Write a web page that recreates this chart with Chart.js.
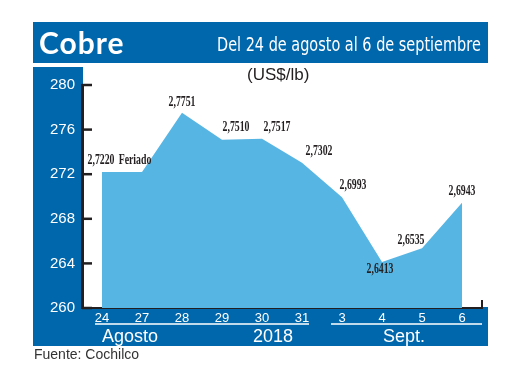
<!DOCTYPE html>
<html lang="es">
<head>
<meta charset="utf-8">
<title>Cobre</title>
<script src="https://cdn.jsdelivr.net/npm/chart.js@4.4.1/dist/chart.umd.min.js"></script>
<style>
  body { margin: 0; background: #fff; }
  #wrap { position: relative; width: 520px; height: 390px; overflow: hidden; font-family: "Liberation Sans", Arial, sans-serif; }
  .blue { position: absolute; background: #0067ac; }
  #banner { left: 33px; top: 22px; width: 455px; height: 41px; }
  #strip { left: 33px; top: 67px; width: 50px; height: 279px; }
  #band { left: 33px; top: 307px; width: 455px; height: 39px; }
  #title { position: absolute; left: 39px; top: 22px; line-height: 40px; font-family: Lato, sans-serif; font-weight: 700; font-size: 30px; letter-spacing: 1px; color: #fff; }
  #sub { position: absolute; left: 217px; top: 24px; line-height: 40px; font-family: "DejaVu Sans Condensed", sans-serif; font-size: 19px; color: #fff; white-space: nowrap; transform-origin: 0 50%; }
  #unit { position: absolute; left: 247px; top: 64px; line-height: 22px; font-size: 17px; color: #231f20; }
  .grp { position: absolute; top: 325px; line-height: 22px; font-size: 18px; color: #fff; text-align: center; width: 80px; }
  #src { position: absolute; left: 34px; top: 345px; line-height: 18px; font-size: 14px; color: #333; }
  canvas { position: absolute; left: 0; top: 0; }
</style>
</head>
<body>
<div id="wrap">
  <div class="blue" id="banner"></div>
  <div class="blue" id="strip"></div>
  <div class="blue" id="band"></div>
  <canvas id="chart" width="520" height="390"></canvas>
  <div id="title">Cobre</div>
  <div id="sub">Del 24 de agosto al 6 de septiembre</div>
  <div id="unit">(US$/lb)</div>
  <div class="grp" style="left:90px">Agosto</div>
  <div class="grp" style="left:233px">2018</div>
  <div class="grp" style="left:364px">Sept.</div>
  <div id="src">Fuente: Cochilco</div>
</div>
<script>
const days = ['24', '27', '28', '29', '30', '31', '3', '4', '5', '6'];
// US cents per lb (label values x 100)
const prices = [272.20, 272.20, 277.51, 275.10, 275.17, 273.02, 269.93, 264.13, 265.35, 269.43];
const notes = [null, 'Feriado', null, null, null, null, null, null, null, null];
const yMin = 260, yMax = 280, yStep = 4;

// fit subtitle to the banner width
const sub = document.getElementById('sub');
sub.style.transform = 'scaleX(' + (264 / sub.offsetWidth) + ')';

const labelShift = [[-1, -12], [-7, -12], [0, -10], [14, -12], [15, -11], [17, -11], [11, -12], [-2, 7], [-11, -8], [0, -11]];

const decor = {
  id: 'decor',
  afterDatasetsDraw(chart) {
    const { ctx, chartArea: a, scales: { x, y } } = chart;
    ctx.save();
    ctx.strokeStyle = '#231f20';
    ctx.lineWidth = 2.5;
    y.ticks.forEach(t => {
      const py = y.getPixelForValue(t.value);
      ctx.beginPath();
      ctx.moveTo(a.left, py);
      ctx.lineTo(a.left + 10, py);
      ctx.stroke();
    });
    ctx.lineWidth = 2;
    ctx.beginPath();
    ctx.moveTo(a.right - 20, a.bottom);
    ctx.lineTo(a.right, a.bottom);
    ctx.lineTo(a.right, a.bottom - 8);
    ctx.stroke();

    // value labels, condensed
    const pts = chart.getDatasetMeta(0).data;
    ctx.fillStyle = '#231f20';
    ctx.font = 'bold 14px "Liberation Serif", serif';
    ctx.textAlign = 'center';
    ctx.textBaseline = 'middle';
    pts.forEach((p, i) => {
      const txt = notes[i] || (prices[i] / 100).toFixed(4).replace('.', ',');
      ctx.save();
      ctx.translate(p.x + labelShift[i][0], p.y + labelShift[i][1]);
      ctx.scale(0.7, 1);
      ctx.fillText(txt, 0, 0);
      ctx.restore();
    });

    // month underlines in the bottom band
    const half = (x.getPixelForValue(1) - x.getPixelForValue(0)) / 2;
    ctx.strokeStyle = '#fff';
    ctx.lineWidth = 1.5;
    const ly = a.bottom + 16;
    ctx.beginPath();
    ctx.moveTo(x.getPixelForValue(0) - 7, ly);
    ctx.lineTo(x.getPixelForValue(5) + 7, ly);
    ctx.moveTo(x.getPixelForValue(6) - half + 9, ly);
    ctx.lineTo(a.right, ly);
    ctx.stroke();
    ctx.restore();
  }
};

new Chart(document.getElementById('chart'), {
  type: 'line',
  data: {
    labels: days,
    datasets: [{
      data: prices,
      fill: 'start',
      backgroundColor: '#57b5e4',
      borderWidth: 0,
      pointRadius: 0,
      tension: 0
    }]
  },
  options: {
    responsive: false,
    animation: false,
    layout: { padding: { top: 85, right: 38, bottom: 0, left: 0 } },
    plugins: { legend: { display: false }, tooltip: { enabled: false } },
    scales: {
      x: {
        offset: true,
        afterFit(s) { s.height = 82; },
        grid: { display: false, drawTicks: false },
        border: { display: true, color: '#231f20', width: 2 },
        ticks: { color: '#fff', padding: 3, maxRotation: 0, autoSkip: false, font: { family: 'Liberation Sans', size: 13 } }
      },
      y: {
        min: yMin,
        max: yMax,
        afterFit(s) { s.width = 82; },
        grid: { display: false, drawTicks: false },
        border: { display: true, color: '#231f20', width: 3 },
        ticks: { stepSize: yStep, color: '#fff', padding: 7, font: { family: 'Liberation Sans', size: 15 } }
      }
    }
  },
  plugins: [decor]
});
</script>
</body>
</html>
